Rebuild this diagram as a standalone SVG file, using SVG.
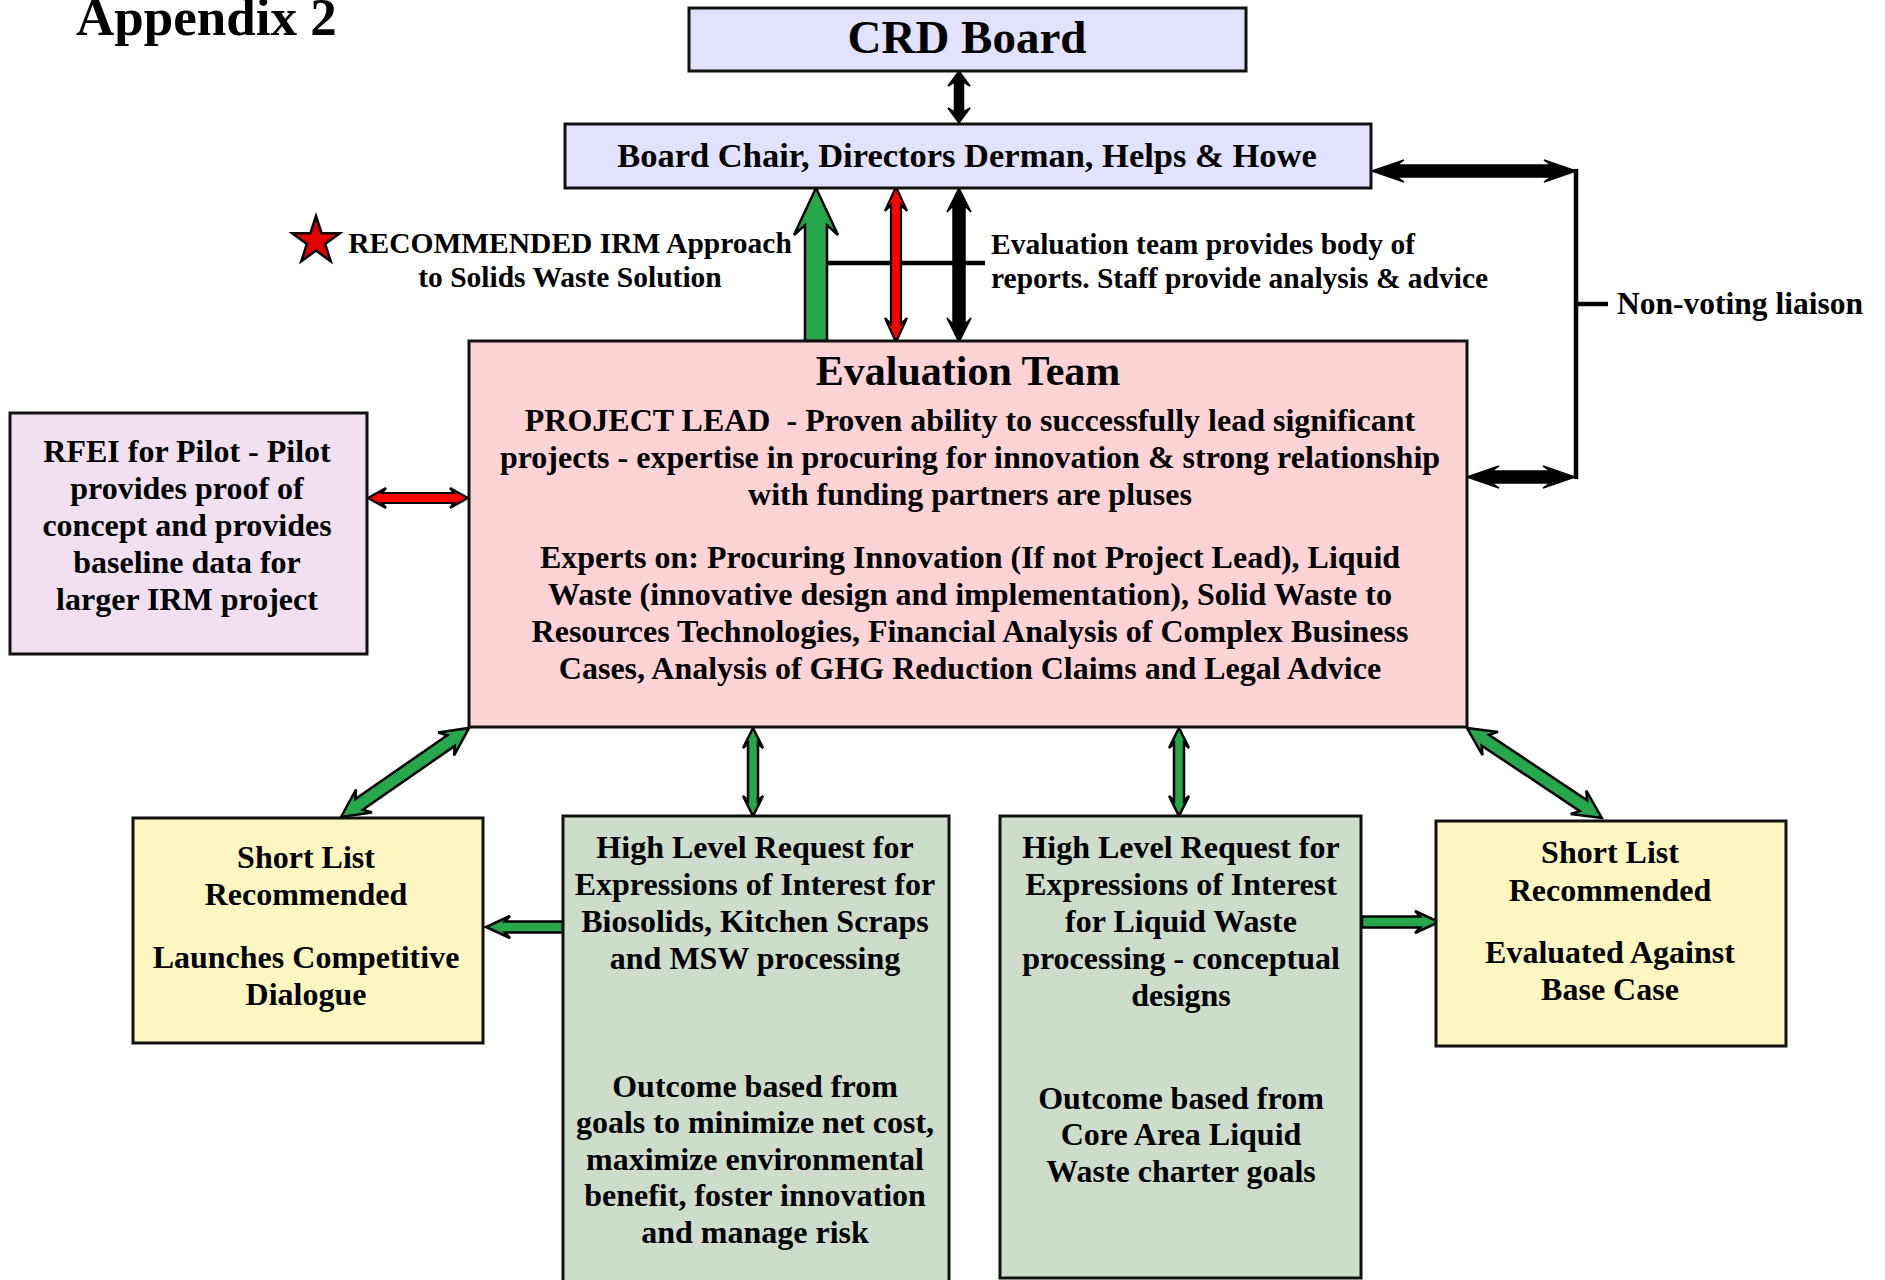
<svg xmlns="http://www.w3.org/2000/svg" width="1885" height="1280" viewBox="0 0 1885 1280">
<style>
text{font-family:"Liberation Serif","Times New Roman",serif;font-weight:bold;fill:#000}
.c{text-anchor:middle}
.t32{font-size:32px}
.lbl{font-size:29.5px}
.box{stroke:#111;stroke-width:3}
.lav{fill:#e2e2fc}
.pink{fill:#fdd3d5}
.purp{fill:#f0e0f0}
.yel{fill:#fdf6c0}
.grn{fill:#cddccb}
.ga{fill:#28a64c;stroke:#000;stroke-width:2.5;stroke-linejoin:miter}
.ra{fill:#ff0000;stroke:#000;stroke-width:2.2}
.ba{fill:#000;stroke:#000;stroke-width:1.5}
.ln{stroke:#000;stroke-width:4.5;fill:none}
</style>
<rect width="1885" height="1280" fill="#fff"/>
<text x="76" y="35" style="font-size:53px">Appendix 2</text>

<g id="connectors">
<polygon class="ba" transform="translate(959,71) rotate(90)" points="0,0 15,-11 11,-4.5 41,-4.5 37,-11 52,0 37,11 41,4.5 11,4.5 15,11"/>
<polygon class="ga" transform="translate(816,341) rotate(-90)" points="0,-11 116,-11 106,-22 153,0 106,22 116,11 0,11"/>
<line class="ln" x1="827" y1="263" x2="985" y2="263"/>
<polygon class="ra" transform="translate(896,187) rotate(90)" points="0,0 24,-11 18,-5 137,-5 131,-11 155,0 131,11 137,5 18,5 24,11"/>
<polygon class="ba" transform="translate(959,188) rotate(90)" points="0,0 24,-12 18,-6 136,-6 130,-12 154,0 130,12 136,6 18,6 24,12"/>
<polygon class="ba" transform="translate(1372,171)" points="0,0 32,-11 25,-6 179,-6 172,-11 204,0 172,11 179,6 25,6 32,11"/>
<polygon class="ba" transform="translate(1467,477)" points="0,0 32,-11 25,-6 83,-6 76,-11 108,0 76,11 83,6 25,6 32,11"/>
<polyline class="ln" points="1576,169 1576,479"/>
<line class="ln" x1="1576" y1="304" x2="1608" y2="304"/>
<polygon class="ra" transform="translate(368,498)" points="0,0 18,-10 14,-5 86,-5 82,-10 100,0 82,10 86,5 14,5 18,10"/>
<polygon class="ga" transform="translate(341,817) rotate(-34.8)" points="0,0 28,-14 22,-6.5 134,-6.5 128,-14 156,0 128,14 134,6.5 22,6.5 28,14"/>
<polygon class="ga" transform="translate(1467,728) rotate(33.7)" points="0,0 28,-14 22,-6.5 140,-6.5 134,-14 162,0 134,14 140,6.5 22,6.5 28,14"/>
<polygon class="ga" transform="translate(753,728) rotate(90)" points="0,0 20,-10 15,-5 73,-5 68,-10 88,0 68,10 73,5 15,5 20,10"/>
<polygon class="ga" transform="translate(1179,728) rotate(90)" points="0,0 20,-10 15,-5 73,-5 68,-10 88,0 68,10 73,5 15,5 20,10"/>
<polygon class="ga" transform="translate(563,927) rotate(180)" points="0,-5.5 58,-5.5 53,-11 77,0 53,11 58,5.5 0,5.5"/>
<polygon class="ga" transform="translate(1362,922)" points="0,-5.5 58,-5.5 53,-11 77,0 53,11 58,5.5 0,5.5"/>
</g>

<g id="crd-board">
<rect class="box lav" x="689" y="8" width="557" height="63"/>
<text class="c" x="967" y="53" style="font-size:47px">CRD Board</text>
</g>

<g id="board-chair">
<rect class="box lav" x="565" y="124" width="806" height="64"/>
<text class="c" x="967" y="167" style="font-size:34.5px">Board Chair, Directors Derman, Helps &amp; Howe</text>
</g>

<g id="recommended-note">
<polygon points="316,216 321.6,233.2 339.8,233.3 325.1,244 330.7,261.2 316,250.6 301.3,261.2 306.9,244 292.2,233.3 310.4,233.2" fill="#e00000" stroke="#000" stroke-width="2.5"/>
<text class="c lbl" x="570" y="253">RECOMMENDED IRM Approach</text>
<text class="c lbl" x="570" y="287">to Solids Waste Solution</text>
</g>

<g id="evaluation-note">
<text class="lbl" x="991" y="254">Evaluation team provides body of</text>
<text class="lbl" x="991" y="288">reports. Staff provide analysis &amp; advice</text>
</g>

<g id="liaison-note">
<text x="1617" y="314" style="font-size:31.5px">Non-voting liaison</text>
</g>

<g id="evaluation-team">
<rect class="box pink" x="469" y="341" width="998" height="386"/>
<text class="c" x="968" y="385" style="font-size:42px">Evaluation Team</text>
<text class="c t32" x="970" y="431">PROJECT LEAD &#160;- Proven ability to successfully lead significant</text>
<text class="c t32" x="970" y="468">projects - expertise in procuring for innovation &amp; strong relationship</text>
<text class="c t32" x="970" y="505">with funding partners are pluses</text>
<text class="c t32" x="970" y="568">Experts on: Procuring Innovation (If not Project Lead), Liquid</text>
<text class="c t32" x="970" y="605">Waste (innovative design and implementation), Solid Waste to</text>
<text class="c t32" x="970" y="642">Resources Technologies, Financial Analysis of Complex Business</text>
<text class="c t32" x="970" y="679">Cases, Analysis of GHG Reduction Claims and Legal Advice</text>
</g>

<g id="rfei-pilot">
<rect class="box purp" x="10" y="413" width="357" height="241"/>
<text class="c t32" x="187" y="462">RFEI for Pilot - Pilot</text>
<text class="c t32" x="187" y="499">provides proof of</text>
<text class="c t32" x="187" y="536">concept and provides</text>
<text class="c t32" x="187" y="573">baseline data for</text>
<text class="c t32" x="187" y="610">larger IRM project</text>
</g>

<g id="short-list-left">
<rect class="box yel" x="133" y="818" width="350" height="225"/>
<text class="c t32" x="306" y="868">Short List</text>
<text class="c t32" x="306" y="905">Recommended</text>
<text class="c t32" x="306" y="968">Launches Competitive</text>
<text class="c t32" x="306" y="1005">Dialogue</text>
</g>

<g id="rfei-biosolids">
<rect class="box grn" x="563" y="816" width="386" height="490"/>
<text class="c t32" x="755" y="858">High Level Request for</text>
<text class="c t32" x="755" y="895">Expressions of Interest for</text>
<text class="c t32" x="755" y="932">Biosolids, Kitchen Scraps</text>
<text class="c t32" x="755" y="969">and MSW processing</text>
<text class="c t32" x="755" y="1097">Outcome based from</text>
<text class="c t32" x="755" y="1133">goals to minimize net cost,</text>
<text class="c t32" x="755" y="1170">maximize environmental</text>
<text class="c t32" x="755" y="1206">benefit, foster innovation</text>
<text class="c t32" x="755" y="1243">and manage risk</text>
</g>

<g id="rfei-liquid">
<rect class="box grn" x="1000" y="816" width="361" height="462"/>
<text class="c t32" x="1181" y="858">High Level Request for</text>
<text class="c t32" x="1181" y="895">Expressions of Interest</text>
<text class="c t32" x="1181" y="932">for Liquid Waste</text>
<text class="c t32" x="1181" y="969">processing - conceptual</text>
<text class="c t32" x="1181" y="1006">designs</text>
<text class="c t32" x="1181" y="1109">Outcome based from</text>
<text class="c t32" x="1181" y="1145">Core Area Liquid</text>
<text class="c t32" x="1181" y="1182">Waste charter goals</text>
</g>

<g id="short-list-right">
<rect class="box yel" x="1436" y="821" width="350" height="225"/>
<text class="c t32" x="1610" y="863">Short List</text>
<text class="c t32" x="1610" y="901">Recommended</text>
<text class="c t32" x="1610" y="963">Evaluated Against</text>
<text class="c t32" x="1610" y="1000">Base Case</text>
</g>
</svg>
